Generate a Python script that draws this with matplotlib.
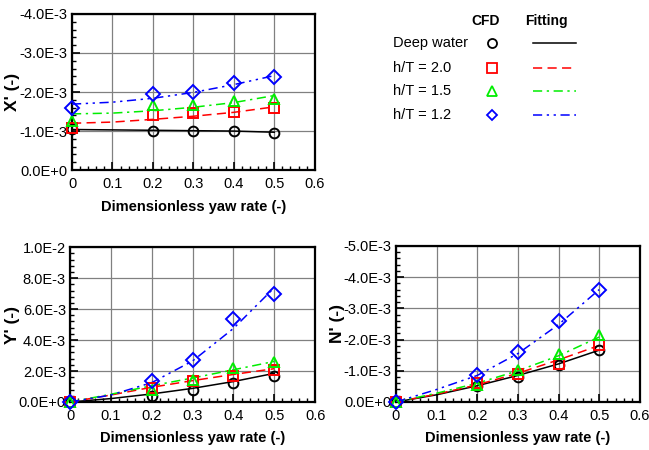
import re
import matplotlib
matplotlib.use('Agg')
import matplotlib.pyplot as plt
from matplotlib.ticker import MultipleLocator, AutoMinorLocator, FuncFormatter

plt.rcParams['font.family'] = ['Liberation Sans', 'DejaVu Sans']

# CFD points (yaw rate r')
r_cfd = [0.0, 0.2, 0.3, 0.4, 0.5]
# fitted curves
r_fit = [0.0, 0.1, 0.2, 0.3, 0.4, 0.5]

cases = ['Deep water', 'h/T = 2.0', 'h/T = 1.5', 'h/T = 1.2']

# X' (units of 1E-3)
x_cfd = {
    'Deep water': [-1.06, -1.00, -1.00, -0.99, -0.96],
    'h/T = 2.0': [-1.09, -1.41, -1.45, -1.50, -1.58],
    'h/T = 1.5': [-1.26, -1.67, -1.67, -1.78, -1.82],
    'h/T = 1.2': [-1.58, -1.95, -2.01, -2.22, -2.39],
}
x_fit = {
    'Deep water': [-1.04, -1.03, -1.02, -1.01, -1.00, -0.97],
    'h/T = 2.0': [-1.20, -1.23, -1.30, -1.38, -1.48, -1.62],
    'h/T = 1.5': [-1.44, -1.46, -1.52, -1.61, -1.73, -1.91],
    'h/T = 1.2': [-1.69, -1.74, -1.84, -1.99, -2.19, -2.42],
}

# Y' (units of 1E-3)
y_cfd = {
    'Deep water': [0.0, 0.41, 0.75, 1.22, 1.65],
    'h/T = 2.0': [0.0, 0.90, 1.35, 1.65, 2.08],
    'h/T = 1.5': [0.0, 0.80, 1.43, 2.18, 2.60],
    'h/T = 1.2': [0.0, 1.37, 2.68, 5.33, 7.00],
}
y_fit = {
    'Deep water': [0.0, 0.22, 0.52, 0.88, 1.32, 1.85],
    'h/T = 2.0': [0.0, 0.45, 0.95, 1.38, 1.78, 2.15],
    'h/T = 1.5': [0.0, 0.50, 1.05, 1.55, 2.08, 2.62],
    'h/T = 1.2': [0.0, 0.45, 1.25, 2.65, 4.75, 7.38],
}

# N' (units of 1E-3)
n_cfd = {
    'Deep water': [0.0, -0.50, -0.80, -1.19, -1.67],
    'h/T = 2.0': [0.0, -0.60, -0.90, -1.23, -1.83],
    'h/T = 1.5': [0.0, -0.55, -1.03, -1.55, -2.15],
    'h/T = 1.2': [0.0, -0.85, -1.60, -2.58, -3.57],
}
n_fit = {
    'Deep water': [0.0, -0.23, -0.52, -0.85, -1.22, -1.66],
    'h/T = 2.0': [0.0, -0.25, -0.55, -0.92, -1.35, -1.81],
    'h/T = 1.5': [0.0, -0.28, -0.60, -1.00, -1.48, -2.08],
    'h/T = 1.2': [0.0, -0.40, -0.85, -1.55, -2.48, -3.60],
}

colors = {'Deep water': 'black', 'h/T = 2.0': '#ff0000',
          'h/T = 1.5': '#00ee00', 'h/T = 1.2': '#0000ff'}
markers = {'Deep water': ('o', 7), 'h/T = 2.0': ('s', 6.5),
           'h/T = 1.5': ('^', 7.5), 'h/T = 1.2': ('D', 6.8)}
legend_ms = {'Deep water': 6.5, 'h/T = 2.0': 6.5, 'h/T = 1.5': 6.5, 'h/T = 1.2': 5.5}
dashes = {'Deep water': (None, None), 'h/T = 2.0': (6, 3.5),
          'h/T = 1.5': (6, 3, 1.5, 3), 'h/T = 1.2': (6, 3, 1.5, 3, 1.5, 3)}


def sci(v, pos):
    if abs(v) < 1e-12:
        return '0.0E+0'
    s = '%.1E' % v
    return re.sub(r'E([+-])0*(\d)', r'E\1\2', s)


def setup(ax, ylim, ystep, ylabel, ylab_x, xlab_y):
    ax.set_xlim(0, 0.6)
    ax.set_ylim(*ylim)
    ax.xaxis.set_major_locator(MultipleLocator(0.1))
    ax.xaxis.set_minor_locator(AutoMinorLocator(5))
    ax.yaxis.set_major_locator(MultipleLocator(ystep))
    ax.yaxis.set_minor_locator(AutoMinorLocator(5))
    ax.yaxis.set_major_formatter(FuncFormatter(sci))
    ax.xaxis.set_major_formatter(FuncFormatter(lambda v, p: '0' if abs(v) < 1e-9 else '%.1f' % v))
    ax.grid(True, which='major', color='#808080', linewidth=0.9)
    ax.set_axisbelow(True)
    ax.tick_params(which='both', direction='in', top=False, right=False, labelsize=10.5)
    ax.tick_params(which='major', length=6, width=1.2)
    ax.tick_params(which='minor', length=3, width=1.0)
    ax.tick_params(axis='x', pad=5)
    ax.tick_params(axis='y', pad=3)
    for sp in ax.spines.values():
        sp.set_linewidth(1.6)
    ax.set_xlabel('Dimensionless yaw rate (-)', fontsize=10.5, fontweight='bold')
    ax.set_ylabel(ylabel, fontsize=12.5, fontweight='bold')
    ax.yaxis.set_label_coords(ylab_x, 0.5)
    ax.xaxis.set_label_coords(0.5, xlab_y)


def draw(ax, cfd, fit):
    for c in cases:
        ln, = ax.plot(r_fit, [v * 1e-3 for v in fit[c]], color=colors[c], lw=1.1, zorder=3)
        if dashes[c][0] is not None:
            ln.set_dashes(dashes[c])
    for c in cases:
        m, ms = markers[c]
        ax.plot(r_cfd, [v * 1e-3 for v in cfd[c]], linestyle='none', marker=m, ms=ms,
                mfc='none', mec=colors[c], mew=1.4, zorder=4, clip_on=False)


fig = plt.figure(figsize=(6.49, 4.5), dpi=100)

ax1 = fig.add_axes([0.111, 0.622, 0.374, 0.347])
draw(ax1, x_cfd, x_fit)
setup(ax1, (0, -4e-3), 1e-3, "X' (-)", -0.214, -0.19)

ax2 = fig.add_axes([0.108, 0.1067, 0.3775, 0.344])
draw(ax2, y_cfd, y_fit)
setup(ax2, (0, 1e-2), 2e-3, "Y' (-)", -0.204, -0.187)

ax3 = fig.add_axes([0.610, 0.1067, 0.376, 0.347])
draw(ax3, n_cfd, n_fit)
setup(ax3, (0, -5e-3), 1e-3, "N' (-)", -0.209, -0.187)

# legend table, laid out in pixel coordinates of the upper right area
lg = fig.add_axes([330 / 649, 1 - 220 / 450, 319 / 649, 220 / 450])
lg.set_xlim(330, 649)
lg.set_ylim(220, 0)
lg.axis('off')
lg.text(485.7, 21, 'CFD', ha='center', va='center', fontsize=10, fontweight='bold')
lg.text(546.7, 21, 'Fitting', ha='center', va='center', fontsize=10, fontweight='bold')
row_y = [43.3, 67.5, 91.3, 115.3]
for c, yy in zip(cases, row_y):
    lg.text(393, yy, c, ha='left', va='center', fontsize=10.5)
    m, ms = markers[c]
    lg.plot([492.3], [yy], linestyle='none', marker=m, ms=legend_ms[c], mfc='none',
            mec=colors[c], mew=1.3)
    ln, = lg.plot([533, 576], [yy, yy], color=colors[c], lw=1.1)
    if dashes[c][0] is not None:
        ln.set_dashes(dashes[c])

fig.savefig('out.png', dpi=100)
